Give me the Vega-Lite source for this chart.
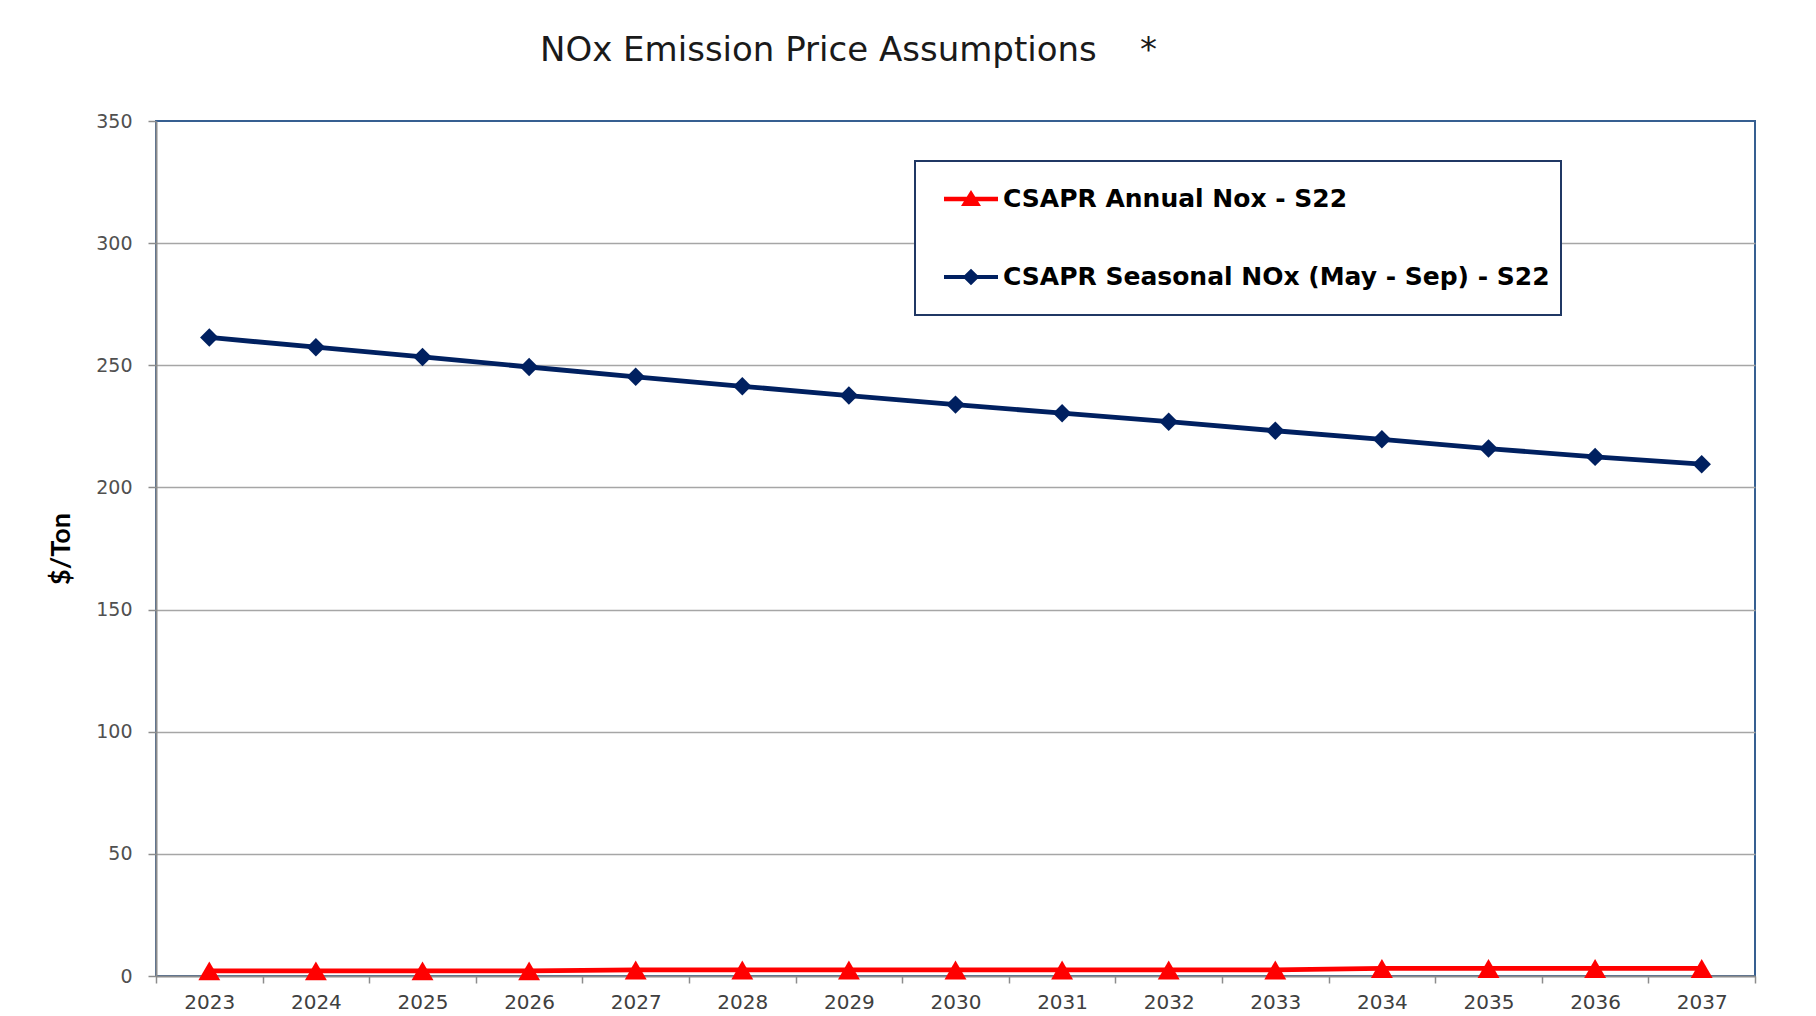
{
  "$schema": "https://vega.github.io/schema/vega-lite/v6.json",
  "width": 1599,
  "height": 855,
  "autosize": {"type": "none"},
  "padding": {"left": 156, "top": 121, "right": 61, "bottom": 40},
  "background": "white",
  "title": {
    "text": "NOx Emission Price Assumptions\u00a0\u00a0\u00a0\u00a0*",
    "anchor": "start",
    "frame": "group",
    "dx": 384,
    "offset": 17,
    "baseline": "alphabetic",
    "font": "DejaVu Sans",
    "fontSize": 34,
    "fontWeight": "normal",
    "color": "#1a1a1a"
  },
  "config": {
    "view": {"stroke": "#365F91", "strokeWidth": 2}
  },
  "data": {
    "values": [
      {"year": 2023, "series": "CSAPR Annual Nox - S22", "value": 2.1},
      {"year": 2024, "series": "CSAPR Annual Nox - S22", "value": 2.1},
      {"year": 2025, "series": "CSAPR Annual Nox - S22", "value": 2.1},
      {"year": 2026, "series": "CSAPR Annual Nox - S22", "value": 2.1},
      {"year": 2027, "series": "CSAPR Annual Nox - S22", "value": 2.5},
      {"year": 2028, "series": "CSAPR Annual Nox - S22", "value": 2.5},
      {"year": 2029, "series": "CSAPR Annual Nox - S22", "value": 2.5},
      {"year": 2030, "series": "CSAPR Annual Nox - S22", "value": 2.5},
      {"year": 2031, "series": "CSAPR Annual Nox - S22", "value": 2.5},
      {"year": 2032, "series": "CSAPR Annual Nox - S22", "value": 2.5},
      {"year": 2033, "series": "CSAPR Annual Nox - S22", "value": 2.5},
      {"year": 2034, "series": "CSAPR Annual Nox - S22", "value": 3.1},
      {"year": 2035, "series": "CSAPR Annual Nox - S22", "value": 3.1},
      {"year": 2036, "series": "CSAPR Annual Nox - S22", "value": 3.1},
      {"year": 2037, "series": "CSAPR Annual Nox - S22", "value": 3.1},
      {"year": 2023, "series": "CSAPR Seasonal NOx (May - Sep) - S22", "value": 261.4},
      {"year": 2024, "series": "CSAPR Seasonal NOx (May - Sep) - S22", "value": 257.4},
      {"year": 2025, "series": "CSAPR Seasonal NOx (May - Sep) - S22", "value": 253.4},
      {"year": 2026, "series": "CSAPR Seasonal NOx (May - Sep) - S22", "value": 249.3},
      {"year": 2027, "series": "CSAPR Seasonal NOx (May - Sep) - S22", "value": 245.3},
      {"year": 2028, "series": "CSAPR Seasonal NOx (May - Sep) - S22", "value": 241.4},
      {"year": 2029, "series": "CSAPR Seasonal NOx (May - Sep) - S22", "value": 237.6},
      {"year": 2030, "series": "CSAPR Seasonal NOx (May - Sep) - S22", "value": 233.9},
      {"year": 2031, "series": "CSAPR Seasonal NOx (May - Sep) - S22", "value": 230.4},
      {"year": 2032, "series": "CSAPR Seasonal NOx (May - Sep) - S22", "value": 226.9},
      {"year": 2033, "series": "CSAPR Seasonal NOx (May - Sep) - S22", "value": 223.2},
      {"year": 2034, "series": "CSAPR Seasonal NOx (May - Sep) - S22", "value": 219.7},
      {"year": 2035, "series": "CSAPR Seasonal NOx (May - Sep) - S22", "value": 215.9},
      {"year": 2036, "series": "CSAPR Seasonal NOx (May - Sep) - S22", "value": 212.5},
      {"year": 2037, "series": "CSAPR Seasonal NOx (May - Sep) - S22", "value": 209.5}
    ]
  },
  "encoding": {
    "x": {
      "field": "year",
      "type": "ordinal",
      "bandPosition": 0.5,
      "scale": {"type": "band", "paddingInner": 0, "paddingOuter": 0},
      "axis": {
        "title": null,
        "labelAngle": 0,
        "labelFont": "DejaVu Sans",
        "labelFontSize": 20,
        "labelColor": "#404040",
        "labelPadding": 9,
        "tickBand": "extent",
        "tickSize": 7,
        "tickColor": "#8C8C8C",
        "tickWidth": 1.5,
        "domainColor": "#8C8C8C",
        "domainWidth": 2,
        "grid": false
      }
    },
    "y": {
      "field": "value",
      "type": "quantitative",
      "scale": {"domain": [0, 350], "nice": false},
      "axis": {
        "title": "$/Ton",
        "titleFont": "Lato",
        "titleFontSize": 27,
        "titleFontWeight": "bold",
        "titleColor": "#000000",
        "titlePadding": 20,
        "values": [0, 50, 100, 150, 200, 250, 300, 350],
        "labelFont": "DejaVu Sans",
        "labelFontSize": 19,
        "labelColor": "#505050",
        "labelPadding": 16,
        "tickSize": 8,
        "tickColor": "#8C8C8C",
        "tickWidth": 1.5,
        "domainColor": "#8C8C8C",
        "domainWidth": 2,
        "grid": true,
        "gridColor": {"condition": {"test": "datum.value === 350 || datum.value === 0", "value": "transparent"}, "value": "#A6A6A6"},
        "gridWidth": 1.5
      }
    },
    "color": {
      "field": "series",
      "type": "nominal",
      "scale": {
        "domain": ["CSAPR Annual Nox - S22", "CSAPR Seasonal NOx (May - Sep) - S22"],
        "range": ["#FF0000", "#002060"]
      },
      "legend": {
        "title": "\u00a0",
        "titleOrient": "bottom",
        "titleFontSize": 9,
        "titlePadding": 5,
        "orient": "none",
        "legendX": 759,
        "legendY": 40,
        "padding": 11,
        "fillColor": "white",
        "strokeColor": "#203864",
        "rowPadding": 38,
        "symbolSize": 2916,
        "symbolOffset": 18,
        "labelOffset": 5,
        "labelFont": "DejaVu Sans",
        "labelFontSize": 25,
        "labelFontWeight": "bold",
        "labelColor": "#000000",
        "labelLimit": 1000,
        "encode": {
          "legend": {
            "update": {
              "strokeWidth": {"value": 2}
            }
          },
          "symbols": {
            "update": {
              "shape": {"signal": "datum.value === 'CSAPR Annual Nox - S22' ? 'M-1,-0.085L1,-0.085L1,0.085L-1,0.085Z M-0.37,0.26L0,-0.33L0.37,0.26Z' : 'M-1,-0.075L1,-0.075L1,0.075L-1,0.075Z M0,-0.31L0.31,0L0,0.31L-0.31,0Z'"},
              "fill": {"signal": "scale('color', datum.value)"},
              "stroke": {"value": "transparent"},
              "strokeWidth": {"value": 0},
              "size": {"value": 2916},
              "opacity": {"value": 1}
            }
          }
        }
      }
    }
  },
  "layer": [
    {
      "mark": {"type": "line", "strokeWidth": 4.8}
    },
    {
      "transform": [{"filter": "datum.series === 'CSAPR Annual Nox - S22'"}],
      "mark": {"type": "point", "filled": true, "opacity": 1, "shape": "triangle-up", "size": 480}
    },
    {
      "transform": [{"filter": "datum.series !== 'CSAPR Annual Nox - S22'"}],
      "mark": {"type": "point", "filled": true, "opacity": 1, "shape": "diamond", "size": 340}
    }
  ]
}
